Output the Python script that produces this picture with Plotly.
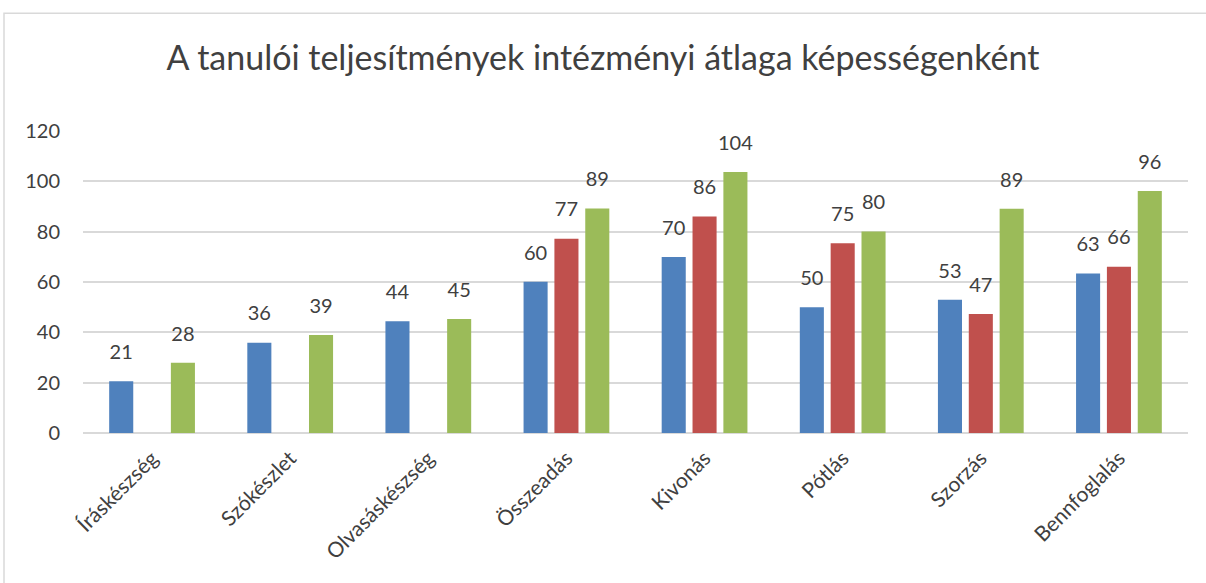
import plotly.graph_objects as go

# Data
categories = ["Íráskészség", "Szókészlet", "Olvasáskészség", "Összeadás",
              "Kivonás", "Pótlás", "Szorzás", "Bennfoglalás"]
blue_vals = [20.6, 35.9, 44.4, 60.1, 69.9, 50.0, 52.9, 63.4]
red_vals = [None, None, None, 77.2, 86.0, 75.4, 47.3, 66.1]
green_vals = [27.9, 38.9, 45.3, 89.2, 103.7, 80.1, 89.1, 96.2]
y_ticks = [0, 20, 40, 60, 80, 100, 120]

title = "A tanulói teljesítmények intézményi átlaga képességenként"
colors = ["#4f81bd", "#c0504d", "#9bbb59"]
text_color = "#404040"
font_family = "Lato, 'Open Sans', sans-serif"


def main():
    fig = go.Figure()

    series = [blue_vals, red_vals, green_vals]
    for i, (vals, col) in enumerate(zip(series, colors)):
        fig.add_trace(go.Bar(
            x=categories, y=vals, offsetgroup=str(i),
            marker=dict(color=col, line=dict(width=0)),
            hoverinfo="y",
        ))
    # value labels as grouped text traces so they can sit a bit higher
    # above the bars (invisible marker pushes the text up)
    for i, vals in enumerate(series):
        fig.add_trace(go.Scatter(
            x=categories, y=vals, offsetgroup=str(i),
            mode="markers+text", marker=dict(size=26, opacity=0),
            text=vals, texttemplate="%{y:.0f}", textposition="top center",
            textfont=dict(size=20, color=text_color, family=font_family),
            hoverinfo="skip", cliponaxis=False,
        ))

    fig.update_layout(
        width=1206, height=583,
        margin=dict(l=83, r=18, t=131, b=150),
        paper_bgcolor="white", plot_bgcolor="white",
        showlegend=False,
        barmode="group", bargap=0.33, bargroupgap=0.22,
        scattermode="group", scattergap=0.33,
        font=dict(family=font_family, color=text_color),
        title=dict(text=title, x=0.5, xanchor="center", y=0.9, yanchor="middle",
                   font=dict(size=34, color=text_color, family=font_family)),
    )

    fig.update_xaxes(
        tickangle=-45, tickfont=dict(size=21, color=text_color),
        showgrid=False, showline=False, ticks="", ticklabelstandoff=8,
    )
    fig.update_yaxes(
        range=[0, 120], tickvals=y_ticks,
        tickfont=dict(size=20, color=text_color),
        showgrid=True, gridcolor="#d9d9d9", gridwidth=1.5,
        zeroline=True, zerolinecolor="#d9d9d9", zerolinewidth=2,
        showline=False, ticks="", ticklabelstandoff=22,
    )

    # thin chart-area border (left and top edges visible)
    fig.add_shape(type="rect", xref="paper", yref="paper",
                  x0=-0.0715, x1=1.2, y0=-1.0, y1=1.39,
                  line=dict(color="#d9d9d9", width=1.5), layer="below")

    # drop the default page margin so the figure sits at the window corner
    fig.write_html("out.html", config={"displayModeBar": False},
                   post_script="document.body.style.margin='0';")


if __name__ == "__main__":
    main()
